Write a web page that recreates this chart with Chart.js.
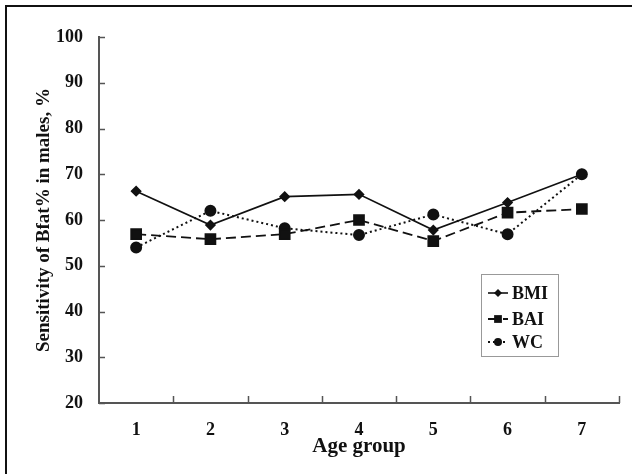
<!DOCTYPE html>
<html>
<head>
<meta charset="utf-8">
<script src="https://cdn.jsdelivr.net/npm/chart.js@4.4.0/dist/chart.umd.min.js"></script>
<style>
body{margin:0;background:#fff}
#wrap{position:relative;width:632px;height:474px}
#frame{position:absolute;left:5px;top:5px;right:0;bottom:0;border-left:2px solid #111;border-top:2px solid #111;pointer-events:none}
</style>
</head>
<body>
<div id="wrap"><canvas id="lineChart" width="632" height="474"></canvas><div id="frame"></div></div>
<script>
const ageGroups=["1","2","3","4","5","6","7"];
const bmi=[66.3,58.9,65.1,65.6,57.8,63.8,70.0];
const bai=[56.9,55.8,56.9,60.0,55.4,61.6,62.4];
const wc=[54.0,62.0,58.2,56.7,61.2,56.9,70.0];
const yTicks=[20,30,40,50,60,70,80,90,100];

const FONT='"Liberation Serif","DejaVu Serif",serif';
const INK='#111';

// short tick marks pointing into the plot, like the original figure
const innerTicks={
    id:'innerTicks',
    afterDraw(chart){
        const ctx=chart.ctx, x=chart.scales.x, y=chart.scales.y, a=chart.chartArea;
        ctx.save();
        ctx.strokeStyle='#555';
        ctx.lineWidth=1.5;
        ctx.beginPath();
        yTicks.forEach(v=>{
            const py=Math.round(y.getPixelForValue(v))+0.5;
            ctx.moveTo(a.left,py); ctx.lineTo(a.left+6,py);
        });
        ageGroups.forEach((c,i)=>{
            const px=Math.round(x.getPixelForValue(i+0.5))+0.5;
            ctx.moveTo(px,a.bottom); ctx.lineTo(px,a.bottom-7);
        });
        ctx.stroke();
        ctx.restore();
    }
};

// boxed legend sitting inside the plot area
const legendRows=[293,319,342];
const boxLegend={
    id:'boxLegend',
    afterDraw(chart){
        const ctx=chart.ctx;
        ctx.save();
        ctx.strokeStyle='#999';
        ctx.lineWidth=1;
        ctx.strokeRect(481.5,274.5,77,82);
        chart.data.datasets.forEach((ds,i)=>{
            const ly=legendRows[i];
            ctx.strokeStyle=ds.borderColor;
            ctx.fillStyle=ds.pointBackgroundColor;
            ctx.lineWidth=ds.borderWidth;
            ctx.setLineDash(ds.borderDash||[]);
            ctx.beginPath();
            ctx.moveTo(488,ly); ctx.lineTo(508,ly);
            ctx.stroke();
            ctx.setLineDash([]);
            Chart.helpers.drawPoint(ctx,{pointStyle:ds.pointStyle,radius:ds.legendRadius,rotation:0,borderWidth:0},498,ly);
            ctx.fillStyle=INK;
            ctx.font='bold 18px '+FONT;
            ctx.textBaseline='middle';
            ctx.fillText(ds.label,512,ly+1);
        });
        ctx.restore();
    }
};

const CHART=document.getElementById("lineChart");

let lineChart=new Chart(CHART,{
    type:'line',
    data:{
        labels:ageGroups,
        datasets:[
            {
                label:"BMI",
                data:bmi,
                borderColor:INK,
                backgroundColor:INK,
                pointBackgroundColor:INK,
                pointBorderColor:INK,
                borderWidth:1.6,
                pointStyle:'rectRot',
                pointRadius:4.5,
                legendRadius:4,
                lineTension:0,
                fill:false
            },
            {
                label:"BAI",
                data:bai,
                borderColor:INK,
                backgroundColor:INK,
                pointBackgroundColor:INK,
                pointBorderColor:INK,
                borderWidth:1.8,
                borderDash:[10,5],
                pointStyle:'rect',
                pointRadius:7,
                legendRadius:5.5,
                lineTension:0,
                fill:false
            },
            {
                label:"WC",
                data:wc,
                borderColor:INK,
                backgroundColor:INK,
                pointBackgroundColor:INK,
                pointBorderColor:INK,
                borderWidth:2,
                borderDash:[2,3],
                pointStyle:'circle',
                pointRadius:5,
                legendRadius:4,
                lineTension:0,
                fill:false
            }
        ]
    },
    options:{
        responsive:false,
        animation:false,
        layout:{padding:{top:37,right:13,left:0,bottom:0}},
        plugins:{legend:{display:false},tooltip:{enabled:false}},
        scales:{
            x:{
                offset:true,
                grid:{display:false,drawTicks:false},
                border:{display:true,color:'#555',width:2},
                ticks:{color:INK,padding:17,font:{family:FONT,size:18,weight:'bold'}},
                title:{display:true,text:'Age group',color:INK,padding:{top:0,bottom:15},font:{family:FONT,size:21,weight:'bold'}},
                afterFit(s){s.height=71;}
            },
            y:{
                min:yTicks[0],
                max:yTicks[yTicks.length-1],
                grid:{display:false,drawTicks:false},
                border:{display:true,color:'#555',width:2},
                ticks:{stepSize:yTicks[1]-yTicks[0],color:INK,padding:16,font:{family:FONT,size:18,weight:'bold'}},
                title:{display:true,text:'Sensitivity of Bfat% in males, %',color:INK,padding:{top:33,bottom:0},font:{family:FONT,size:19,weight:'bold'}},
                afterFit(s){s.width=99;}
            }
        }
    },
    plugins:[innerTicks,boxLegend]
});
</script>
</body>
</html>
